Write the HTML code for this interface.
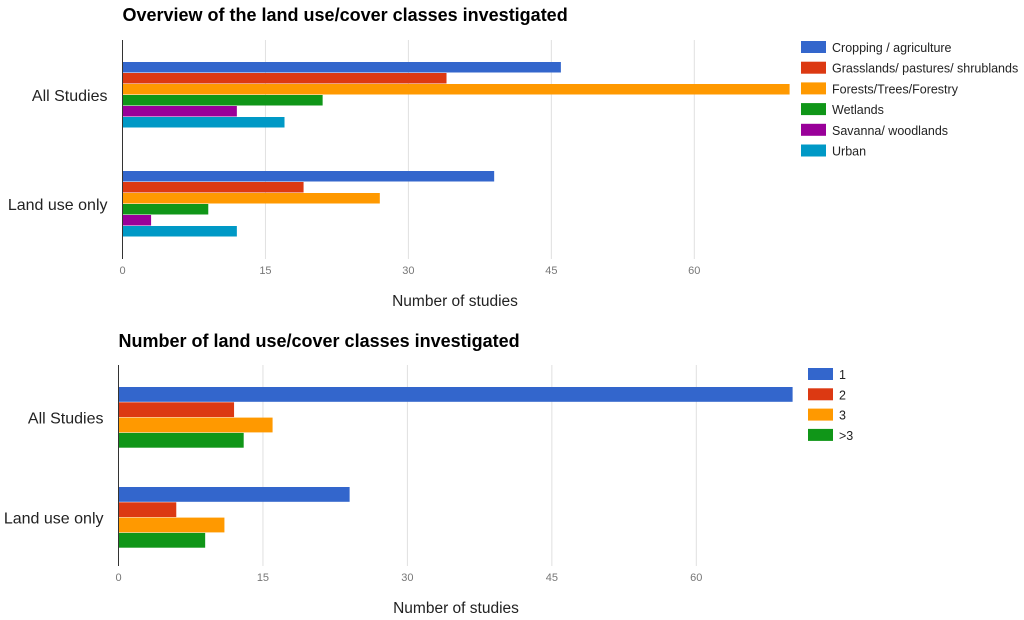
<!DOCTYPE html>
<html><head><meta charset="utf-8">
<style>
html,body{margin:0;padding:0;background:#fff;}
svg{display:block;font-family:"Liberation Sans",Arial,sans-serif;}
</style></head>
<body>
<svg id="c" width="1024" height="620" viewBox="0 0 1024 620"></svg>
<script>
const NS='http://www.w3.org/2000/svg';
const svg=document.getElementById('c');
// Top chart data
const topCategories=['All Studies','Land use only'];
const topSeriesNames=['Cropping / agriculture','Grasslands/ pastures/ shrublands','Forests/Trees/Forestry','Wetlands','Savanna/ woodlands','Urban'];
const topAll=[46,34,70,21,12,17];
const topLandUse=[39,19,27,9,3,12];
const topColors=['#3366cc','#dc3912','#ff9900','#109618','#990099','#0099c6'];
// Bottom chart data
const botCategories=['All Studies','Land use only'];
const botSeriesNames=['1','2','3','>3'];
const botAll=[70,12,16,13];
const botLandUse=[24,6,11,9];
const botColors=['#3366cc','#dc3912','#ff9900','#109618'];
const tickValues=[0,15,30,45,60];

function el(tag,attrs,parent){const e=document.createElementNS(NS,tag);for(const k in attrs)e.setAttribute(k,attrs[k]);(parent||svg).appendChild(e);return e;}
function txt(s,attrs,parent){const e=el('text',attrs,parent);e.textContent=s;return e;}

function drawChart(o){
  const g=el('g',{});
  
  
  const x=v=>o.x0+v*o.scale;
  const t=txt(o.title,{x:o.x0,y:o.titleY,'font-size':18,'font-weight':'bold',fill:'#000'},g);
  
  
  tickValues.forEach(v=>{
    if(v>0){const l=el('line',{x1:x(v),x2:x(v),y1:o.top,y2:o.bottom,stroke:'#e0e0e0','stroke-width':1},g);
      
      }
    const tl=txt(String(v),{x:x(v),y:o.bottom+15,'font-size':11,fill:'#777','text-anchor':'middle'},g);
    
    
  });
  const ax=txt('Number of studies',{x:o.axisTitleX,y:o.bottom+47,'font-size':15.5,fill:'#222','text-anchor':'middle'},g);
  
  
  o.groups.forEach((vals,gi)=>{
    const gy=o.groupStarts[gi];
    const cl=txt(o.categories[gi],{x:o.x0-15,y:gy+vals.length*o.bh/2+6,'font-size':16,fill:'#222','text-anchor':'end'},g);
    
    
    vals.forEach((v,i)=>{
      const r=el('rect',{x:x(0),y:gy+i*o.bh,width:x(v)-x(0),height:o.bh-0.5,fill:o.colors[i]},g);
      
      
    });
  });
  const axl=el('line',{x1:o.x0,x2:o.x0,y1:o.top,y2:o.bottom,stroke:'#333','stroke-width':1},g);
  
  
  o.names.forEach((n,i)=>{
    const ly=o.legY+i*o.legStep;
    const lg=el('g',{},g);
    
    
    el('rect',{x:o.legX,y:ly,width:25,height:12,fill:o.colors[i]},lg);
    txt(n,{x:o.legX+31,y:ly+11,'font-size':12.5,fill:'#222'},lg);
  });
}
drawChart({name:'land-use-classes-chart',title:'Overview of the land use/cover classes investigated',titleY:21,
  x0:122.5,scale:9.53,top:40,bottom:259,axisTitleX:455,
  groups:[topAll,topLandUse],categories:topCategories,groupStarts:[62,171],bh:11,colors:topColors,
  names:topSeriesNames,legX:801,legY:41,legStep:20.7});
drawChart({name:'class-count-chart',title:'Number of land use/cover classes investigated',titleY:347,
  x0:118.5,scale:9.63,top:365,bottom:566,axisTitleX:456,
  groups:[botAll,botLandUse],categories:botCategories,groupStarts:[387,487],bh:15.3,colors:botColors,
  names:botSeriesNames,legX:808,legY:368,legStep:20.3});
</script>
</body></html>
